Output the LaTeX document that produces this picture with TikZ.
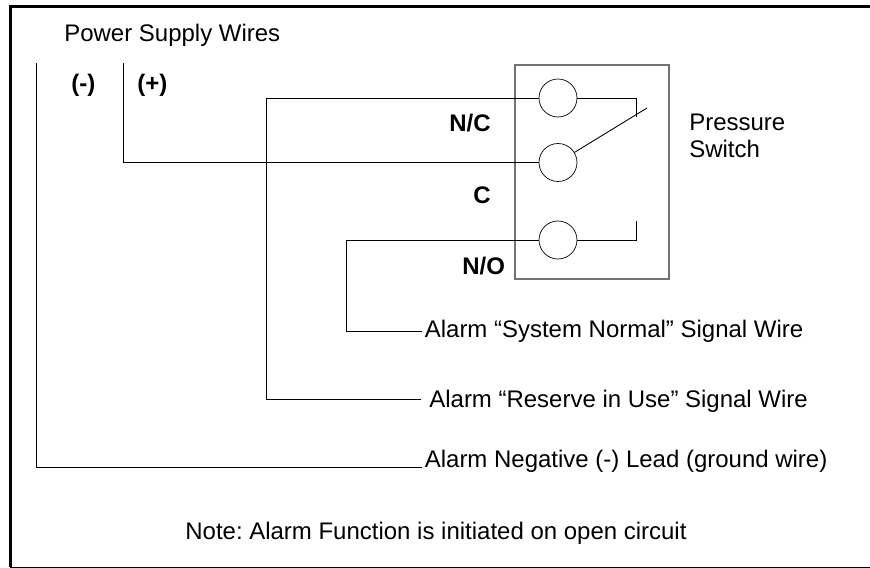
\documentclass[tikz,border=0pt]{standalone}
\usepackage{fontspec}
\setmainfont{Liberation Sans}
\frenchspacing
\begin{document}
\begin{tikzpicture}[x=0.02cm, y=-0.02cm, thin]
	\tikzstyle{contact}=[circle,draw=black,minimum size=0.76cm,inner sep=0pt]
	\tikzstyle{caption}=[anchor=west,inner sep=0pt,font=\fontsize{13.65}{15.4}\selectfont]
	\tikzstyle{terminal}=[caption,font=\fontsize{13.65}{15.4}\selectfont\bfseries]
	\tikzstyle{wire}=[draw=black,line width=0.5pt]
	\useasboundingbox (0,0) rectangle (870,568);
	
	\draw[line width=1.7pt, black] (870,6.5) -- (10.5,6.5) -- (10.5,567);
	\draw[line width=0.7pt, black] (10,567.3) -- (870,567.3);
	
	\node[draw=black!55, line width=0.6pt, minimum width=3.08cm, minimum height=4.28cm, inner sep=0pt] (Switch-Box) at (592,172) {};
	
	\node[contact] (Contact-NC) at (558,98) {};
	\node[contact] (Contact-C) at (558,162.5) {};
	\node[contact] (Contact-NO) at (558,240) {};
	
	\coordinate (Neg-Top) at (36,63);
	\coordinate (Neg-Corner) at (36,467);
	\coordinate (Pos-Top) at (123,63);
	\coordinate (Pos-Corner) at (123,162.5);
	\coordinate (NC-Corner) at (266,399);
	\coordinate (NO-Corner) at (346,331.5);
	\coordinate (NC-Post) at (636,98);
	\coordinate (NC-Stop) at (636,117);
	\coordinate (NO-Post) at (636,240);
	\coordinate (NO-Stop) at (636,221);
	\coordinate (Arm-Tip) at (647,108);
	
	\node[caption] (Supply-Label) at (64,35) {Power Supply Wires};
	\node[terminal] (Neg-Label) at (71,85) {(-)};
	\node[terminal] (Pos-Label) at (137,85) {(+)};
	\node[terminal] (NC-Label) at (449,123.5) {N/C};
	\node[terminal] (C-Label) at (473,195.5) {C};
	\node[terminal] (NO-Label) at (462,266) {N/O};
	\node[caption, align=left] (Switch-Label) at (689,136) {Pressure\\Switch};
	\node[caption, inner xsep=0.05cm] (Normal-Label) at (422,331) {Alarm “System Normal” Signal Wire};
	\node[caption, inner xsep=0.16cm] (Reserve-Label) at (421,401) {Alarm “Reserve in Use” Signal Wire};
	\node[caption, inner xsep=0.05cm] (Ground-Label) at (422,461) {Alarm Negative (-) Lead (ground wire)};
	\node[caption] (Note-Label) at (185,533) {Note: Alarm Function is initiated on open circuit};
	
	\draw[wire] (Neg-Top) -- (Neg-Corner) -- (Neg-Corner -| Ground-Label.west);
	\draw[wire] (Pos-Top) -- (Pos-Corner) -- (Contact-C);
	\draw[wire] (NC-Corner -| Reserve-Label.west) -- (NC-Corner) |- (Contact-NC);
	\draw[wire] (NO-Corner -| Normal-Label.west) -- (NO-Corner) |- (Contact-NO);
	
	\draw[wire] (Contact-NC) -- (NC-Post) -- (NC-Stop);
	\draw[wire] (Contact-NO) -- (NO-Post) -- (NO-Stop);
	\draw[wire] (Contact-C) -- (Arm-Tip);
\end{tikzpicture}
\end{document}
